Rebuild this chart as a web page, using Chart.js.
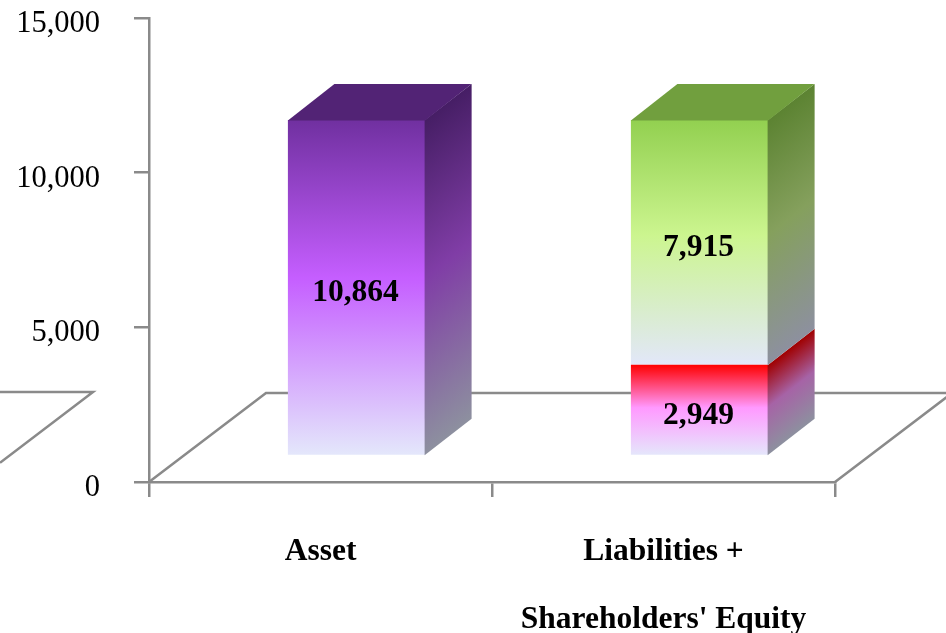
<!DOCTYPE html>
<html>
<head>
<meta charset="utf-8">
<title>Balance sheet chart</title>
<script src="https://cdn.jsdelivr.net/npm/chart.js@4"></script>
<style>
  html, body { margin: 0; padding: 0; background: #fff; }
  canvas { display: block; }
</style>
</head>
<body>
<canvas id="myChart" width="946" height="633"></canvas>
<script>
// data
const categories = [['Asset'], ['Liabilities +', "Shareholders' Equity"]];
const assetValues = [10864, null];
const redValues = [null, 2949];
const greenValues = [null, 7915];
const yTicks = [0, 5000, 10000, 15000];

const AXIS_COLOR = '#8a8a8a';
const AXIS_WIDTH = 2.5;
const SERIF = '"Liberation Serif", serif';

// the fake 3D box
const FRONT_DX = 36, FRONT_DY = -26; // front face sits off the axis plane
const SIDE_DX = 46.5, SIDE_DY = 36;
const FLOOR_DX = 117, FLOOR_DY = 89;

const purple = {
    front: ['#7030a0', '#c55eff', '#e4e8fb'],
    side: ['#461e65', '#803da6', '#8d909f'],
    top: '#522375'
};
const red = {
    front: ['#ff0000', '#ff99ff', '#e4e8fb'],
    side: ['#a00000', '#a663a6', '#8d909f'],
    top: '#a00000'
};
const green = {
    front: ['#92d050', '#ccf58f', '#e2e7f9'],
    side: ['#5c8332', '#85a05d', '#8d909f'],
    top: '#719f3e'
};

function threeStops(ctx, top, bottom, colors) {
    const g = ctx.createLinearGradient(0, top, 0, bottom);
    g.addColorStop(0, colors[0]);
    g.addColorStop(0.47, colors[1]);
    g.addColorStop(1, colors[2]);
    return g;
}

function frontFill(colors) {
    return function (c) {
        if (c.raw === null || !c.chart.chartArea) return 'transparent';
        const y = c.chart.scales.y;
        let start = 0;
        for (let i = 0; i < c.datasetIndex; i++) {
            start += c.chart.data.datasets[i].data[c.dataIndex] || 0;
        }
        return threeStops(c.chart.ctx, y.getPixelForValue(start + c.raw), y.getPixelForValue(start), colors);
    };
}

const floorPlugin = {
    id: 'floor',
    beforeDatasetsDraw(chart) {
        const { ctx, chartArea: a, width } = chart;
        const backY = a.bottom - FLOOR_DY;
        ctx.save();
        ctx.strokeStyle = AXIS_COLOR;
        ctx.lineWidth = AXIS_WIDTH;
        ctx.beginPath();
        ctx.moveTo(a.left, a.bottom);
        ctx.lineTo(a.left + FLOOR_DX, backY);
        ctx.lineTo(width, backY);
        ctx.moveTo(a.right, a.bottom);
        ctx.lineTo(a.right + FLOOR_DX, backY);
        // piece of the floor that shows on the far left in the original
        const apex = a.left - 56;
        ctx.moveTo(0, backY - 1);
        ctx.lineTo(apex, backY - 1);
        ctx.lineTo(0, backY - 1 + apex * FLOOR_DY / FLOOR_DX);
        ctx.stroke();
        ctx.restore();
        ctx.save();
        ctx.translate(FRONT_DX, FRONT_DY);
    },
    afterDatasetsDraw(chart) {
        const { ctx } = chart;
        const lastWithValue = {};
        chart.data.datasets.forEach((ds, i) => {
            ds.data.forEach((v, j) => { if (v !== null) lastWithValue[j] = i; });
        });
        chart.data.datasets.forEach((ds, i) => {
            chart.getDatasetMeta(i).data.forEach((bar, j) => {
                if (ds.data[j] === null) return;
                const left = bar.x - bar.width / 2, right = bar.x + bar.width / 2;
                const top = bar.y, bottom = bar.base;
                const k = SIDE_DY / SIDE_DX;
                // right side, gradient sheared along with the face
                ctx.save();
                ctx.translate(right, 0);
                ctx.transform(1, -k, 0, 1, 0, 0);
                ctx.fillStyle = threeStops(ctx, top, bottom, ds.faces.side);
                ctx.fillRect(-0.5, top, SIDE_DX + 0.5, bottom - top);
                ctx.restore();
                // lid only on the top block of the stack
                if (lastWithValue[j] === i) {
                    ctx.fillStyle = ds.faces.top;
                    ctx.beginPath();
                    ctx.moveTo(left, top + 0.5);
                    ctx.lineTo(left + SIDE_DX, top - SIDE_DY);
                    ctx.lineTo(right + SIDE_DX, top - SIDE_DY);
                    ctx.lineTo(right, top + 0.5);
                    ctx.closePath();
                    ctx.fill();
                }
                // value label
                ctx.fillStyle = '#000';
                ctx.font = 'bold 31.5px ' + SERIF;
                ctx.textAlign = 'center';
                ctx.textBaseline = 'middle';
                ctx.fillText(ds.data[j].toLocaleString('en-US'), bar.x - 1, (top + bottom) / 2 + 6);
            });
        });
        ctx.restore();
    }
};

function makeDataset(label, values, faces) {
    return {
        label: label,
        data: values,
        faces: faces,
        backgroundColor: frontFill(faces.front),
        borderWidth: 0,
        barPercentage: 0.4,
        categoryPercentage: 1,
        clip: false
    };
}

new Chart(document.getElementById('myChart'), {
    type: 'bar',
    data: {
        labels: categories,
        datasets: [
            makeDataset('Asset', assetValues, purple),
            makeDataset('Lower block', redValues, red),
            makeDataset('Upper block', greenValues, green)
        ]
    },
    plugins: [floorPlugin],
    options: {
        responsive: false,
        animation: false,
        layout: { padding: { top: 18, right: 111, left: 0, bottom: 0 } },
        plugins: { legend: { display: false }, tooltip: { enabled: false } },
        scales: {
            x: {
                stacked: true,
                grid: { drawOnChartArea: false, color: AXIS_COLOR, lineWidth: AXIS_WIDTH, tickLength: 15 },
                border: { color: AXIS_COLOR, width: AXIS_WIDTH },
                ticks: {
                    color: '#000',
                    padding: 21,
                    maxRotation: 0,
                    autoSkip: false,
                    font: { family: SERIF, size: 31.5, weight: 'bold', lineHeight: 68 / 31.5 }
                },
                afterFit(scale) { scale.height = 151; }
            },
            y: {
                stacked: true,
                min: 0,
                max: 15000,
                afterBuildTicks(scale) { scale.ticks = yTicks.map(v => ({ value: v })); },
                grid: { drawOnChartArea: false, color: AXIS_COLOR, lineWidth: AXIS_WIDTH, tickLength: 15 },
                border: { color: AXIS_COLOR, width: AXIS_WIDTH },
                ticks: {
                    color: '#000',
                    padding: 34,
                    // empty first line pushes the number a little below its tick
                    callback: v => ['', v.toLocaleString('en-US')],
                    font: { family: SERIF, size: 30.5, lineHeight: 12 / 30.5 }
                },
                afterFit(scale) {
                    scale.width = 149;
                    scale.paddingTop = 0;
                    scale.paddingBottom = 0;
                }
            }
        }
    }
});
</script>
</body>
</html>
